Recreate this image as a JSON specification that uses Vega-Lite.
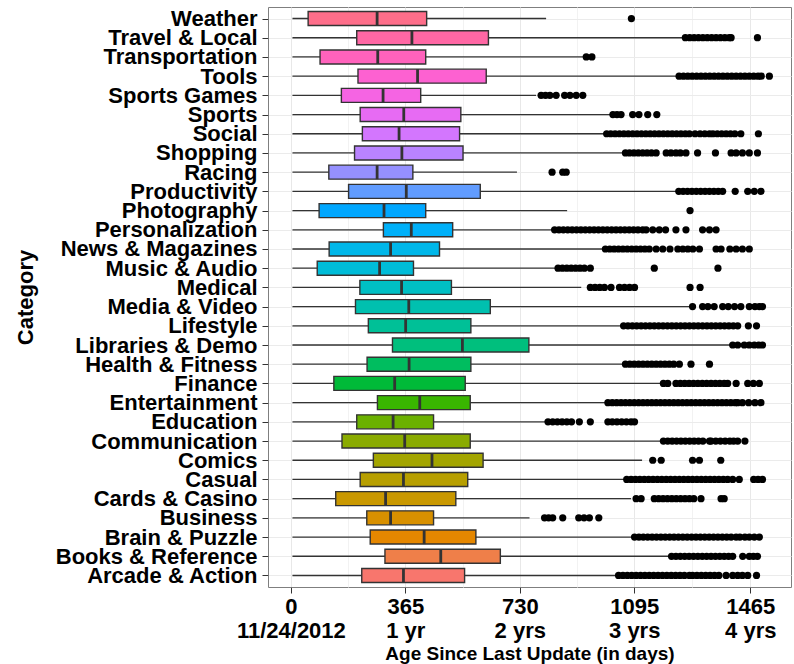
{
  "$schema": "https://vega.github.io/schema/vega-lite/v6.json",
  "width": 523,
  "height": 580,
  "autosize": {"type": "none"},
  "padding": {"left": 268, "top": 7, "right": 3, "bottom": 77},
  "background": "white",
  "config": {
    "font": "Liberation Sans",
    "view": {"stroke": "#7F7F7F", "strokeWidth": 1},
    "axis": {
      "domain": false,
      "tickColor": "#333333",
      "tickSize": 6,
      "labelColor": "black",
      "labelFontWeight": "bold",
      "labelFont": "Liberation Sans",
      "titleFont": "Liberation Sans",
      "titleFontWeight": "bold",
      "titleColor": "black",
      "gridColor": "#EBEBEB",
      "gridWidth": 1
    }
  },
  "datasets": {
    "boxes": [
      {"cat": "Weather", "lo": 5, "q1": 55, "med": 275, "q3": 433, "hi": 814},
      {"cat": "Travel & Local", "lo": 5, "q1": 210, "med": 386, "q3": 630, "hi": 1255},
      {"cat": "Transportation", "lo": 5, "q1": 93, "med": 277, "q3": 430, "hi": 936},
      {"cat": "Tools", "lo": 5, "q1": 214, "med": 404, "q3": 623, "hi": 1234},
      {"cat": "Sports Games", "lo": 5, "q1": 161, "med": 294, "q3": 414, "hi": 782},
      {"cat": "Sports", "lo": 5, "q1": 221, "med": 360, "q3": 542, "hi": 1021},
      {"cat": "Social", "lo": 5, "q1": 228, "med": 345, "q3": 538, "hi": 1007},
      {"cat": "Shopping", "lo": 5, "q1": 203, "med": 354, "q3": 549, "hi": 1067},
      {"cat": "Racing", "lo": 5, "q1": 121, "med": 275, "q3": 389, "hi": 721},
      {"cat": "Productivity", "lo": 5, "q1": 184, "med": 368, "q3": 604, "hi": 1228},
      {"cat": "Photography", "lo": 5, "q1": 90, "med": 297, "q3": 430, "hi": 881},
      {"cat": "Personalization", "lo": 5, "q1": 295, "med": 384, "q3": 516, "hi": 841},
      {"cat": "News & Magazines", "lo": 5, "q1": 122, "med": 318, "q3": 474, "hi": 1003},
      {"cat": "Music & Audio", "lo": 5, "q1": 84, "med": 283, "q3": 391, "hi": 852},
      {"cat": "Medical", "lo": 5, "q1": 220, "med": 353, "q3": 512, "hi": 926},
      {"cat": "Media & Video", "lo": 5, "q1": 206, "med": 376, "q3": 636, "hi": 1281},
      {"cat": "Lifestyle", "lo": 5, "q1": 247, "med": 366, "q3": 574, "hi": 1061},
      {"cat": "Libraries & Demo", "lo": 5, "q1": 324, "med": 547, "q3": 759, "hi": 1409},
      {"cat": "Health & Fitness", "lo": 5, "q1": 243, "med": 377, "q3": 574, "hi": 1067},
      {"cat": "Finance", "lo": 5, "q1": 137, "med": 331, "q3": 556, "hi": 1188},
      {"cat": "Entertainment", "lo": 5, "q1": 276, "med": 411, "q3": 572, "hi": 1011},
      {"cat": "Education", "lo": 5, "q1": 210, "med": 326, "q3": 455, "hi": 820},
      {"cat": "Communication", "lo": 5, "q1": 163, "med": 363, "q3": 572, "hi": 1188},
      {"cat": "Comics", "lo": 5, "q1": 263, "med": 450, "q3": 613, "hi": 1120},
      {"cat": "Casual", "lo": 5, "q1": 221, "med": 359, "q3": 564, "hi": 1071},
      {"cat": "Cards & Casino", "lo": 5, "q1": 143, "med": 302, "q3": 526, "hi": 1085},
      {"cat": "Business", "lo": 5, "q1": 242, "med": 318, "q3": 455, "hi": 761},
      {"cat": "Brain & Puzzle", "lo": 5, "q1": 253, "med": 425, "q3": 590, "hi": 1096},
      {"cat": "Books & Reference", "lo": 5, "q1": 300, "med": 478, "q3": 668, "hi": 1214},
      {"cat": "Arcade & Action", "lo": 5, "q1": 226, "med": 359, "q3": 554, "hi": 1045}
    ],
    "outliers": [
      {"cat": "Weather", "days": 1086},
      {"cat": "Travel & Local", "days": 1258}, {"cat": "Travel & Local", "days": 1272}, {"cat": "Travel & Local", "days": 1286}, {"cat": "Travel & Local", "days": 1300}, {"cat": "Travel & Local", "days": 1314}, {"cat": "Travel & Local", "days": 1328}, {"cat": "Travel & Local", "days": 1342}, {"cat": "Travel & Local", "days": 1356}, {"cat": "Travel & Local", "days": 1370}, {"cat": "Travel & Local", "days": 1384}, {"cat": "Travel & Local", "days": 1398}, {"cat": "Travel & Local", "days": 1404}, {"cat": "Travel & Local", "days": 1488},
      {"cat": "Transportation", "days": 942}, {"cat": "Transportation", "days": 960},
      {"cat": "Tools", "days": 1238}, {"cat": "Tools", "days": 1252}, {"cat": "Tools", "days": 1266}, {"cat": "Tools", "days": 1280}, {"cat": "Tools", "days": 1294}, {"cat": "Tools", "days": 1308}, {"cat": "Tools", "days": 1322}, {"cat": "Tools", "days": 1336}, {"cat": "Tools", "days": 1350}, {"cat": "Tools", "days": 1364}, {"cat": "Tools", "days": 1378}, {"cat": "Tools", "days": 1392}, {"cat": "Tools", "days": 1406}, {"cat": "Tools", "days": 1420}, {"cat": "Tools", "days": 1434}, {"cat": "Tools", "days": 1448}, {"cat": "Tools", "days": 1462}, {"cat": "Tools", "days": 1476}, {"cat": "Tools", "days": 1490}, {"cat": "Tools", "days": 1500}, {"cat": "Tools", "days": 1526},
      {"cat": "Sports Games", "days": 798}, {"cat": "Sports Games", "days": 812}, {"cat": "Sports Games", "days": 826}, {"cat": "Sports Games", "days": 846}, {"cat": "Sports Games", "days": 873}, {"cat": "Sports Games", "days": 890}, {"cat": "Sports Games", "days": 910}, {"cat": "Sports Games", "days": 931},
      {"cat": "Sports", "days": 1027}, {"cat": "Sports", "days": 1040}, {"cat": "Sports", "days": 1053}, {"cat": "Sports", "days": 1090}, {"cat": "Sports", "days": 1110}, {"cat": "Sports", "days": 1138}, {"cat": "Sports", "days": 1167},
      {"cat": "Social", "days": 1007}, {"cat": "Social", "days": 1020}, {"cat": "Social", "days": 1034}, {"cat": "Social", "days": 1048}, {"cat": "Social", "days": 1062}, {"cat": "Social", "days": 1076}, {"cat": "Social", "days": 1090}, {"cat": "Social", "days": 1104}, {"cat": "Social", "days": 1118}, {"cat": "Social", "days": 1132}, {"cat": "Social", "days": 1146}, {"cat": "Social", "days": 1160}, {"cat": "Social", "days": 1174}, {"cat": "Social", "days": 1188}, {"cat": "Social", "days": 1202}, {"cat": "Social", "days": 1216}, {"cat": "Social", "days": 1230}, {"cat": "Social", "days": 1244}, {"cat": "Social", "days": 1258}, {"cat": "Social", "days": 1271}, {"cat": "Social", "days": 1289}, {"cat": "Social", "days": 1305}, {"cat": "Social", "days": 1320}, {"cat": "Social", "days": 1335}, {"cat": "Social", "days": 1346}, {"cat": "Social", "days": 1360}, {"cat": "Social", "days": 1374}, {"cat": "Social", "days": 1388}, {"cat": "Social", "days": 1402}, {"cat": "Social", "days": 1416}, {"cat": "Social", "days": 1435}, {"cat": "Social", "days": 1491},
      {"cat": "Shopping", "days": 1067}, {"cat": "Shopping", "days": 1080}, {"cat": "Shopping", "days": 1094}, {"cat": "Shopping", "days": 1108}, {"cat": "Shopping", "days": 1122}, {"cat": "Shopping", "days": 1136}, {"cat": "Shopping", "days": 1150}, {"cat": "Shopping", "days": 1165}, {"cat": "Shopping", "days": 1197}, {"cat": "Shopping", "days": 1212}, {"cat": "Shopping", "days": 1228}, {"cat": "Shopping", "days": 1242}, {"cat": "Shopping", "days": 1260}, {"cat": "Shopping", "days": 1297}, {"cat": "Shopping", "days": 1354}, {"cat": "Shopping", "days": 1404}, {"cat": "Shopping", "days": 1420}, {"cat": "Shopping", "days": 1440}, {"cat": "Shopping", "days": 1462}, {"cat": "Shopping", "days": 1488},
      {"cat": "Racing", "days": 833}, {"cat": "Racing", "days": 867}, {"cat": "Racing", "days": 878},
      {"cat": "Productivity", "days": 1237}, {"cat": "Productivity", "days": 1251}, {"cat": "Productivity", "days": 1265}, {"cat": "Productivity", "days": 1279}, {"cat": "Productivity", "days": 1293}, {"cat": "Productivity", "days": 1307}, {"cat": "Productivity", "days": 1321}, {"cat": "Productivity", "days": 1335}, {"cat": "Productivity", "days": 1349}, {"cat": "Productivity", "days": 1363}, {"cat": "Productivity", "days": 1377}, {"cat": "Productivity", "days": 1417}, {"cat": "Productivity", "days": 1457}, {"cat": "Productivity", "days": 1478}, {"cat": "Productivity", "days": 1499},
      {"cat": "Photography", "days": 1273},
      {"cat": "Personalization", "days": 841}, {"cat": "Personalization", "days": 855}, {"cat": "Personalization", "days": 869}, {"cat": "Personalization", "days": 883}, {"cat": "Personalization", "days": 897}, {"cat": "Personalization", "days": 911}, {"cat": "Personalization", "days": 925}, {"cat": "Personalization", "days": 939}, {"cat": "Personalization", "days": 953}, {"cat": "Personalization", "days": 967}, {"cat": "Personalization", "days": 981}, {"cat": "Personalization", "days": 995}, {"cat": "Personalization", "days": 1009}, {"cat": "Personalization", "days": 1023}, {"cat": "Personalization", "days": 1037}, {"cat": "Personalization", "days": 1051}, {"cat": "Personalization", "days": 1065}, {"cat": "Personalization", "days": 1079}, {"cat": "Personalization", "days": 1093}, {"cat": "Personalization", "days": 1107}, {"cat": "Personalization", "days": 1122}, {"cat": "Personalization", "days": 1133}, {"cat": "Personalization", "days": 1154}, {"cat": "Personalization", "days": 1175}, {"cat": "Personalization", "days": 1195}, {"cat": "Personalization", "days": 1228}, {"cat": "Personalization", "days": 1260}, {"cat": "Personalization", "days": 1313}, {"cat": "Personalization", "days": 1335}, {"cat": "Personalization", "days": 1356},
      {"cat": "News & Magazines", "days": 1003}, {"cat": "News & Magazines", "days": 1017}, {"cat": "News & Magazines", "days": 1031}, {"cat": "News & Magazines", "days": 1045}, {"cat": "News & Magazines", "days": 1059}, {"cat": "News & Magazines", "days": 1073}, {"cat": "News & Magazines", "days": 1087}, {"cat": "News & Magazines", "days": 1101}, {"cat": "News & Magazines", "days": 1115}, {"cat": "News & Magazines", "days": 1129}, {"cat": "News & Magazines", "days": 1143}, {"cat": "News & Magazines", "days": 1165}, {"cat": "News & Magazines", "days": 1186}, {"cat": "News & Magazines", "days": 1209}, {"cat": "News & Magazines", "days": 1234}, {"cat": "News & Magazines", "days": 1250}, {"cat": "News & Magazines", "days": 1266}, {"cat": "News & Magazines", "days": 1282}, {"cat": "News & Magazines", "days": 1303}, {"cat": "News & Magazines", "days": 1356}, {"cat": "News & Magazines", "days": 1372}, {"cat": "News & Magazines", "days": 1400}, {"cat": "News & Magazines", "days": 1420}, {"cat": "News & Magazines", "days": 1440}, {"cat": "News & Magazines", "days": 1462},
      {"cat": "Music & Audio", "days": 852}, {"cat": "Music & Audio", "days": 866}, {"cat": "Music & Audio", "days": 880}, {"cat": "Music & Audio", "days": 894}, {"cat": "Music & Audio", "days": 908}, {"cat": "Music & Audio", "days": 922}, {"cat": "Music & Audio", "days": 936}, {"cat": "Music & Audio", "days": 955}, {"cat": "Music & Audio", "days": 1159}, {"cat": "Music & Audio", "days": 1362},
      {"cat": "Medical", "days": 955}, {"cat": "Medical", "days": 970}, {"cat": "Medical", "days": 985}, {"cat": "Medical", "days": 1000}, {"cat": "Medical", "days": 1021}, {"cat": "Medical", "days": 1048}, {"cat": "Medical", "days": 1064}, {"cat": "Medical", "days": 1080}, {"cat": "Medical", "days": 1096}, {"cat": "Medical", "days": 1273}, {"cat": "Medical", "days": 1305},
      {"cat": "Media & Video", "days": 1281}, {"cat": "Media & Video", "days": 1313}, {"cat": "Media & Video", "days": 1330}, {"cat": "Media & Video", "days": 1350}, {"cat": "Media & Video", "days": 1377}, {"cat": "Media & Video", "days": 1395}, {"cat": "Media & Video", "days": 1415}, {"cat": "Media & Video", "days": 1435}, {"cat": "Media & Video", "days": 1462}, {"cat": "Media & Video", "days": 1480}, {"cat": "Media & Video", "days": 1494}, {"cat": "Media & Video", "days": 1504},
      {"cat": "Lifestyle", "days": 1061}, {"cat": "Lifestyle", "days": 1075}, {"cat": "Lifestyle", "days": 1089}, {"cat": "Lifestyle", "days": 1103}, {"cat": "Lifestyle", "days": 1117}, {"cat": "Lifestyle", "days": 1131}, {"cat": "Lifestyle", "days": 1145}, {"cat": "Lifestyle", "days": 1159}, {"cat": "Lifestyle", "days": 1173}, {"cat": "Lifestyle", "days": 1187}, {"cat": "Lifestyle", "days": 1201}, {"cat": "Lifestyle", "days": 1215}, {"cat": "Lifestyle", "days": 1229}, {"cat": "Lifestyle", "days": 1243}, {"cat": "Lifestyle", "days": 1257}, {"cat": "Lifestyle", "days": 1271}, {"cat": "Lifestyle", "days": 1285}, {"cat": "Lifestyle", "days": 1299}, {"cat": "Lifestyle", "days": 1313}, {"cat": "Lifestyle", "days": 1327}, {"cat": "Lifestyle", "days": 1341}, {"cat": "Lifestyle", "days": 1355}, {"cat": "Lifestyle", "days": 1369}, {"cat": "Lifestyle", "days": 1383}, {"cat": "Lifestyle", "days": 1397}, {"cat": "Lifestyle", "days": 1411}, {"cat": "Lifestyle", "days": 1425}, {"cat": "Lifestyle", "days": 1459}, {"cat": "Lifestyle", "days": 1485},
      {"cat": "Libraries & Demo", "days": 1409}, {"cat": "Libraries & Demo", "days": 1425}, {"cat": "Libraries & Demo", "days": 1446}, {"cat": "Libraries & Demo", "days": 1462}, {"cat": "Libraries & Demo", "days": 1478}, {"cat": "Libraries & Demo", "days": 1492}, {"cat": "Libraries & Demo", "days": 1504},
      {"cat": "Health & Fitness", "days": 1067}, {"cat": "Health & Fitness", "days": 1081}, {"cat": "Health & Fitness", "days": 1095}, {"cat": "Health & Fitness", "days": 1109}, {"cat": "Health & Fitness", "days": 1123}, {"cat": "Health & Fitness", "days": 1137}, {"cat": "Health & Fitness", "days": 1151}, {"cat": "Health & Fitness", "days": 1165}, {"cat": "Health & Fitness", "days": 1179}, {"cat": "Health & Fitness", "days": 1193}, {"cat": "Health & Fitness", "days": 1207}, {"cat": "Health & Fitness", "days": 1221}, {"cat": "Health & Fitness", "days": 1239}, {"cat": "Health & Fitness", "days": 1276}, {"cat": "Health & Fitness", "days": 1335},
      {"cat": "Finance", "days": 1188}, {"cat": "Finance", "days": 1202}, {"cat": "Finance", "days": 1228}, {"cat": "Finance", "days": 1242}, {"cat": "Finance", "days": 1256}, {"cat": "Finance", "days": 1270}, {"cat": "Finance", "days": 1284}, {"cat": "Finance", "days": 1298}, {"cat": "Finance", "days": 1312}, {"cat": "Finance", "days": 1326}, {"cat": "Finance", "days": 1340}, {"cat": "Finance", "days": 1354}, {"cat": "Finance", "days": 1368}, {"cat": "Finance", "days": 1382}, {"cat": "Finance", "days": 1393}, {"cat": "Finance", "days": 1420}, {"cat": "Finance", "days": 1457}, {"cat": "Finance", "days": 1475}, {"cat": "Finance", "days": 1494},
      {"cat": "Entertainment", "days": 1011}, {"cat": "Entertainment", "days": 1025}, {"cat": "Entertainment", "days": 1039}, {"cat": "Entertainment", "days": 1053}, {"cat": "Entertainment", "days": 1067}, {"cat": "Entertainment", "days": 1081}, {"cat": "Entertainment", "days": 1095}, {"cat": "Entertainment", "days": 1109}, {"cat": "Entertainment", "days": 1123}, {"cat": "Entertainment", "days": 1137}, {"cat": "Entertainment", "days": 1151}, {"cat": "Entertainment", "days": 1165}, {"cat": "Entertainment", "days": 1179}, {"cat": "Entertainment", "days": 1193}, {"cat": "Entertainment", "days": 1207}, {"cat": "Entertainment", "days": 1221}, {"cat": "Entertainment", "days": 1235}, {"cat": "Entertainment", "days": 1249}, {"cat": "Entertainment", "days": 1263}, {"cat": "Entertainment", "days": 1277}, {"cat": "Entertainment", "days": 1291}, {"cat": "Entertainment", "days": 1305}, {"cat": "Entertainment", "days": 1319}, {"cat": "Entertainment", "days": 1333}, {"cat": "Entertainment", "days": 1347}, {"cat": "Entertainment", "days": 1361}, {"cat": "Entertainment", "days": 1375}, {"cat": "Entertainment", "days": 1389}, {"cat": "Entertainment", "days": 1403}, {"cat": "Entertainment", "days": 1417}, {"cat": "Entertainment", "days": 1425}, {"cat": "Entertainment", "days": 1440}, {"cat": "Entertainment", "days": 1460}, {"cat": "Entertainment", "days": 1480}, {"cat": "Entertainment", "days": 1499},
      {"cat": "Education", "days": 820}, {"cat": "Education", "days": 835}, {"cat": "Education", "days": 850}, {"cat": "Education", "days": 865}, {"cat": "Education", "days": 880}, {"cat": "Education", "days": 895}, {"cat": "Education", "days": 920}, {"cat": "Education", "days": 955}, {"cat": "Education", "days": 1011}, {"cat": "Education", "days": 1025}, {"cat": "Education", "days": 1040}, {"cat": "Education", "days": 1055}, {"cat": "Education", "days": 1070}, {"cat": "Education", "days": 1085}, {"cat": "Education", "days": 1096},
      {"cat": "Communication", "days": 1188}, {"cat": "Communication", "days": 1202}, {"cat": "Communication", "days": 1216}, {"cat": "Communication", "days": 1230}, {"cat": "Communication", "days": 1244}, {"cat": "Communication", "days": 1258}, {"cat": "Communication", "days": 1272}, {"cat": "Communication", "days": 1286}, {"cat": "Communication", "days": 1300}, {"cat": "Communication", "days": 1314}, {"cat": "Communication", "days": 1335}, {"cat": "Communication", "days": 1340}, {"cat": "Communication", "days": 1355}, {"cat": "Communication", "days": 1370}, {"cat": "Communication", "days": 1385}, {"cat": "Communication", "days": 1400}, {"cat": "Communication", "days": 1412}, {"cat": "Communication", "days": 1425}, {"cat": "Communication", "days": 1448},
      {"cat": "Comics", "days": 1154}, {"cat": "Comics", "days": 1181}, {"cat": "Comics", "days": 1281}, {"cat": "Comics", "days": 1303}, {"cat": "Comics", "days": 1371},
      {"cat": "Casual", "days": 1071}, {"cat": "Casual", "days": 1085}, {"cat": "Casual", "days": 1099}, {"cat": "Casual", "days": 1113}, {"cat": "Casual", "days": 1127}, {"cat": "Casual", "days": 1141}, {"cat": "Casual", "days": 1155}, {"cat": "Casual", "days": 1169}, {"cat": "Casual", "days": 1183}, {"cat": "Casual", "days": 1197}, {"cat": "Casual", "days": 1211}, {"cat": "Casual", "days": 1225}, {"cat": "Casual", "days": 1239}, {"cat": "Casual", "days": 1253}, {"cat": "Casual", "days": 1267}, {"cat": "Casual", "days": 1281}, {"cat": "Casual", "days": 1295}, {"cat": "Casual", "days": 1309}, {"cat": "Casual", "days": 1323}, {"cat": "Casual", "days": 1337}, {"cat": "Casual", "days": 1351}, {"cat": "Casual", "days": 1365}, {"cat": "Casual", "days": 1379}, {"cat": "Casual", "days": 1393}, {"cat": "Casual", "days": 1409}, {"cat": "Casual", "days": 1430}, {"cat": "Casual", "days": 1476}, {"cat": "Casual", "days": 1490}, {"cat": "Casual", "days": 1504},
      {"cat": "Cards & Casino", "days": 1101}, {"cat": "Cards & Casino", "days": 1117}, {"cat": "Cards & Casino", "days": 1159}, {"cat": "Cards & Casino", "days": 1173}, {"cat": "Cards & Casino", "days": 1187}, {"cat": "Cards & Casino", "days": 1201}, {"cat": "Cards & Casino", "days": 1215}, {"cat": "Cards & Casino", "days": 1229}, {"cat": "Cards & Casino", "days": 1243}, {"cat": "Cards & Casino", "days": 1257}, {"cat": "Cards & Casino", "days": 1271}, {"cat": "Cards & Casino", "days": 1285}, {"cat": "Cards & Casino", "days": 1308}, {"cat": "Cards & Casino", "days": 1372}, {"cat": "Cards & Casino", "days": 1382},
      {"cat": "Business", "days": 809}, {"cat": "Business", "days": 822}, {"cat": "Business", "days": 835}, {"cat": "Business", "days": 867}, {"cat": "Business", "days": 918}, {"cat": "Business", "days": 935}, {"cat": "Business", "days": 952}, {"cat": "Business", "days": 982},
      {"cat": "Brain & Puzzle", "days": 1096}, {"cat": "Brain & Puzzle", "days": 1110}, {"cat": "Brain & Puzzle", "days": 1124}, {"cat": "Brain & Puzzle", "days": 1138}, {"cat": "Brain & Puzzle", "days": 1152}, {"cat": "Brain & Puzzle", "days": 1166}, {"cat": "Brain & Puzzle", "days": 1180}, {"cat": "Brain & Puzzle", "days": 1194}, {"cat": "Brain & Puzzle", "days": 1208}, {"cat": "Brain & Puzzle", "days": 1222}, {"cat": "Brain & Puzzle", "days": 1236}, {"cat": "Brain & Puzzle", "days": 1250}, {"cat": "Brain & Puzzle", "days": 1264}, {"cat": "Brain & Puzzle", "days": 1278}, {"cat": "Brain & Puzzle", "days": 1292}, {"cat": "Brain & Puzzle", "days": 1306}, {"cat": "Brain & Puzzle", "days": 1320}, {"cat": "Brain & Puzzle", "days": 1334}, {"cat": "Brain & Puzzle", "days": 1348}, {"cat": "Brain & Puzzle", "days": 1362}, {"cat": "Brain & Puzzle", "days": 1376}, {"cat": "Brain & Puzzle", "days": 1390}, {"cat": "Brain & Puzzle", "days": 1404}, {"cat": "Brain & Puzzle", "days": 1420}, {"cat": "Brain & Puzzle", "days": 1432}, {"cat": "Brain & Puzzle", "days": 1448}, {"cat": "Brain & Puzzle", "days": 1462}, {"cat": "Brain & Puzzle", "days": 1478}, {"cat": "Brain & Puzzle", "days": 1494},
      {"cat": "Books & Reference", "days": 1214}, {"cat": "Books & Reference", "days": 1228}, {"cat": "Books & Reference", "days": 1242}, {"cat": "Books & Reference", "days": 1256}, {"cat": "Books & Reference", "days": 1270}, {"cat": "Books & Reference", "days": 1284}, {"cat": "Books & Reference", "days": 1298}, {"cat": "Books & Reference", "days": 1312}, {"cat": "Books & Reference", "days": 1326}, {"cat": "Books & Reference", "days": 1340}, {"cat": "Books & Reference", "days": 1354}, {"cat": "Books & Reference", "days": 1368}, {"cat": "Books & Reference", "days": 1382}, {"cat": "Books & Reference", "days": 1396}, {"cat": "Books & Reference", "days": 1409}, {"cat": "Books & Reference", "days": 1441}, {"cat": "Books & Reference", "days": 1462}, {"cat": "Books & Reference", "days": 1475}, {"cat": "Books & Reference", "days": 1488},
      {"cat": "Arcade & Action", "days": 1045}, {"cat": "Arcade & Action", "days": 1059}, {"cat": "Arcade & Action", "days": 1073}, {"cat": "Arcade & Action", "days": 1087}, {"cat": "Arcade & Action", "days": 1101}, {"cat": "Arcade & Action", "days": 1115}, {"cat": "Arcade & Action", "days": 1129}, {"cat": "Arcade & Action", "days": 1143}, {"cat": "Arcade & Action", "days": 1157}, {"cat": "Arcade & Action", "days": 1171}, {"cat": "Arcade & Action", "days": 1185}, {"cat": "Arcade & Action", "days": 1199}, {"cat": "Arcade & Action", "days": 1213}, {"cat": "Arcade & Action", "days": 1227}, {"cat": "Arcade & Action", "days": 1241}, {"cat": "Arcade & Action", "days": 1255}, {"cat": "Arcade & Action", "days": 1271}, {"cat": "Arcade & Action", "days": 1281}, {"cat": "Arcade & Action", "days": 1295}, {"cat": "Arcade & Action", "days": 1309}, {"cat": "Arcade & Action", "days": 1323}, {"cat": "Arcade & Action", "days": 1337}, {"cat": "Arcade & Action", "days": 1351}, {"cat": "Arcade & Action", "days": 1365}, {"cat": "Arcade & Action", "days": 1388}, {"cat": "Arcade & Action", "days": 1409}, {"cat": "Arcade & Action", "days": 1425}, {"cat": "Arcade & Action", "days": 1440}, {"cat": "Arcade & Action", "days": 1457}, {"cat": "Arcade & Action", "days": 1485}
    ]
  },
  "encoding": {
    "y": {
      "field": "cat",
      "type": "nominal",
      "title": "Category",
      "scale": {
        "type": "point",
        "padding": 0.6,
        "domain": ["Weather", "Travel & Local", "Transportation", "Tools", "Sports Games", "Sports", "Social", "Shopping", "Racing", "Productivity", "Photography", "Personalization", "News & Magazines", "Music & Audio", "Medical", "Media & Video", "Lifestyle", "Libraries & Demo", "Health & Fitness", "Finance", "Entertainment", "Education", "Communication", "Comics", "Casual", "Cards & Casino", "Business", "Brain & Puzzle", "Books & Reference", "Arcade & Action"]
      },
      "axis": {
        "labelFontSize": 22,
        "labelPadding": 5,
        "labelLimit": 0,
        "grid": true,
        "titleFontSize": 22,
        "titleX": -243,
        "titleAngle": -90,
        "titleAlign": "center",
        "titleBaseline": "middle"
      }
    }
  },
  "layer": [
    {
      "data": {"name": "boxes"},
      "mark": {"type": "rule", "color": "#333333", "strokeWidth": 1.3},
      "encoding": {
        "x": {
          "field": "lo",
          "type": "quantitative",
          "scale": {"domain": [-73, 1595], "nice": false, "zero": false},
          "title": "Age Since Last Update (in days)",
          "axis": {
            "values": [0, 182.5, 365, 547.5, 730, 912.5, 1095, 1280, 1465],
            "labelExpr": "datum.value == 0 ? ['0', '11/24/2012'] : datum.value == 365 ? ['365', '1 yr'] : datum.value == 730 ? ['730', '2 yrs'] : datum.value == 1095 ? ['1095', '3 yrs'] : datum.value == 1465 ? ['1465', '4 yrs'] : ''",
            "labelFontSize": 22,
            "labelLineHeight": 24,
            "labelBaseline": "top",
            "labelPadding": 3,
            "labelFlush": false,
            "labelOverlap": false,
            "tickOpacity": {"condition": {"test": "datum.value == 0 || datum.value == 365 || datum.value == 730 || datum.value == 1095 || datum.value == 1465", "value": 1}, "value": 0},
            "gridColor": {"condition": {"test": "datum.value == 0 || datum.value == 365 || datum.value == 730 || datum.value == 1095 || datum.value == 1465", "value": "#E8E8E8"}, "value": "#F2F2F2"},
            "grid": true,
            "titleFontSize": 19,
            "titleBaseline": "alphabetic",
            "titleY": 72
          }
        },
        "x2": {"field": "hi"}
      }
    },
    {
      "data": {"name": "boxes"},
      "mark": {"type": "bar", "size": 14, "stroke": "#333333", "strokeWidth": 1.4},
      "encoding": {
        "x": {"field": "q1", "type": "quantitative"},
        "x2": {"field": "q3"},
        "color": {
          "field": "cat",
          "type": "nominal",
          "legend": null,
          "scale": {
            "domain": ["Arcade & Action", "Books & Reference", "Brain & Puzzle", "Business", "Cards & Casino", "Casual", "Comics", "Communication", "Education", "Entertainment", "Finance", "Health & Fitness", "Libraries & Demo", "Lifestyle", "Media & Video", "Medical", "Music & Audio", "News & Magazines", "Personalization", "Photography", "Productivity", "Racing", "Shopping", "Social", "Sports", "Sports Games", "Tools", "Transportation", "Travel & Local", "Weather"],
            "range": ["#F8766D", "#EF7F49", "#E58700", "#D89000", "#C99800", "#B79F00", "#A3A500", "#8AAB00", "#6BB100", "#39B600", "#00BA38", "#00BD5F", "#00BF7D", "#00C097", "#00C0AF", "#00BFC4", "#00BCD8", "#00B7E9", "#00B0F8", "#00A7FF", "#619CFF", "#9590FF", "#B983FF", "#D376FE", "#E76BF3", "#F564E3", "#FD61D1", "#FF62BC", "#FF67A4", "#FE6E8A"]
          }
        }
      }
    },
    {
      "data": {"name": "boxes"},
      "mark": {"type": "tick", "orient": "vertical", "size": 14, "thickness": 2.8, "color": "#333333", "opacity": 1},
      "encoding": {
        "x": {"field": "med", "type": "quantitative"}
      }
    },
    {
      "data": {"name": "outliers"},
      "mark": {"type": "point", "filled": true, "color": "black", "size": 52, "opacity": 1},
      "encoding": {
        "x": {"field": "days", "type": "quantitative"}
      }
    }
  ]
}
